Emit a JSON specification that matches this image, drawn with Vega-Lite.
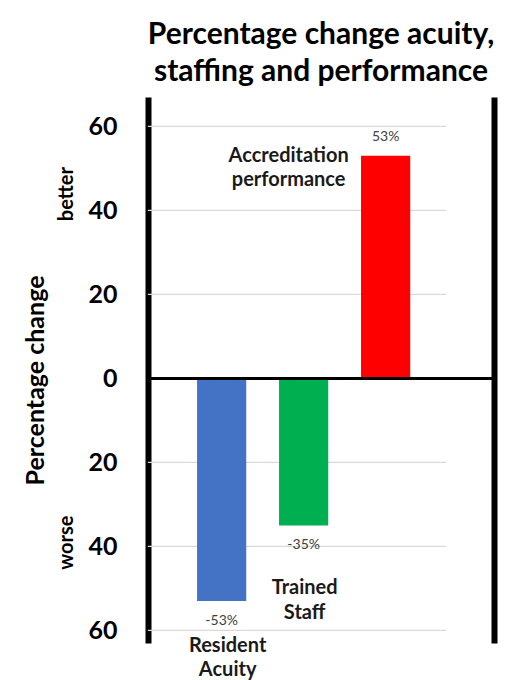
{
  "$schema": "https://vega.github.io/schema/vega-lite/v6.json",
  "autosize": "none",
  "padding": {"left": 148, "top": 97, "right": 17, "bottom": 37},
  "width": 346,
  "height": 546,
  "background": "white",
  "config": {"view": {"stroke": null}, "font": "Lato"},
  "title": {
    "text": ["Percentage change acuity,", "staffing and performance"],
    "fontSize": 30,
    "fontWeight": "bold",
    "font": "Lato",
    "color": "#000000",
    "lineHeight": 37,
    "anchor": "middle",
    "offset": 10
  },
  "datasets": {
    "bars": [
      {"category": "Resident Acuity", "value": -53},
      {"category": "Trained Staff", "value": -35},
      {"category": "Accreditation performance", "value": 53}
    ],
    "grid": [
      {"g": -60}, {"g": -40}, {"g": -20}, {"g": 20}, {"g": 40}, {"g": 60}
    ]
  },
  "data": {"name": "bars"},
  "resolve": {"axis": {"y": "independent"}},
  "layer": [
    {
      "data": {"name": "grid"},
      "mark": {"type": "rule", "color": "#d9d9d9", "strokeWidth": 1.2},
      "encoding": {
        "x": {"datum": "Resident Acuity", "type": "nominal", "bandPosition": -1,
          "scale": {"domain": ["Resident Acuity", "Trained Staff", "Accreditation performance", "_"], "paddingInner": 0.4, "paddingOuter": 0.31, "align": 0.965},
          "axis": null},
        "x2": {"datum": "_", "bandPosition": 0.07},
        "y": {"field": "g", "type": "quantitative", "scale": {"domain": [-63, 67], "nice": false, "zero": false}, "axis": null}
      }
    },
    {
      "mark": {"type": "bar"},
      "encoding": {
        "x": {
          "field": "category", "type": "nominal", "axis": null,
          "scale": {"domain": ["Resident Acuity", "Trained Staff", "Accreditation performance", "_"], "paddingInner": 0.4, "paddingOuter": 0.31, "align": 0.965}
        },
        "y": {
          "field": "value", "type": "quantitative",
          "scale": {"domain": [-63, 67], "nice": false, "zero": false},
          "axis": {
            "orient": "left", "offset": 0,
            "values": [-60, -40, -20, 0, 20, 40, 60],
            "labelExpr": "format(abs(datum.value), 'd')",
            "labelFontSize": 25, "labelFontWeight": "bold", "labelColor": "#000000", "labelFont": "Lato",
            "labelPadding": 31, "ticks": false, "tickSize": 0,
            "domain": true, "domainColor": "#000000", "domainWidth": 6,
            "grid": false,
            "labelOverlap": false, "labelFlush": false, "labelBound": false,
            "title": "Percentage change", "titleFontSize": 25, "titleFontWeight": "bold", "titleColor": "#000000", "titleFont": "Lato",
            "titleAngle": 270, "titleX": -113, "titleY": 283, "titleBaseline": "middle", "titleAlign": "center"
          }
        },
        "color": {
          "field": "category", "type": "nominal", "legend": null,
          "scale": {
            "domain": ["Resident Acuity", "Trained Staff", "Accreditation performance"],
            "range": ["#4472C4", "#00B050", "#FF0000"]
          }
        }
      }
    },
    {
      "mark": {"type": "rule", "color": "#000000", "strokeWidth": 3},
      "encoding": {
        "y": {
          "datum": 0, "type": "quantitative",
          "scale": {"domain": [-63, 67], "nice": false, "zero": false},
          "axis": {
            "orient": "right", "offset": 0, "labels": false, "ticks": false, "tickSize": 0, "grid": false,
            "domain": true, "domainColor": "#000000", "domainWidth": 6, "title": null
          }
        }
      }
    },
    {
      "transform": [{"filter": "datum.value < 0"}, {"calculate": "datum.value + '%'", "as": "lbl"}],
      "mark": {"type": "text", "fontSize": 14, "color": "#404040", "dy": 20, "baseline": "middle", "font": "Lato"},
      "encoding": {
        "x": {"field": "category", "type": "nominal"},
        "y": {
          "field": "value", "type": "quantitative",
          "scale": {"domain": [-63, 67], "nice": false, "zero": false},
          "axis": {
            "orient": "left", "offset": 0, "values": [44, -39],
            "labelExpr": "datum.value > 0 ? 'better' : 'worse'",
            "labelAngle": 270, "labelAlign": "center", "labelBaseline": "middle",
            "labelPadding": 82, "ticks": false, "tickSize": 0, "domain": false, "grid": false,
            "labelFontSize": 20, "labelFontWeight": "bold", "labelColor": "#000000", "labelFont": "Lato",
            "labelOverlap": false, "labelBound": false, "labelFlush": false, "title": null
          }
        },
        "text": {"field": "lbl"}
      }
    },
    {
      "transform": [{"filter": "datum.value > 0"}, {"calculate": "datum.value + '%'", "as": "lbl"}],
      "mark": {"type": "text", "fontSize": 14, "color": "#404040", "dy": -19, "baseline": "middle", "font": "Lato"},
      "encoding": {
        "x": {"field": "category", "type": "nominal"},
        "y": {"field": "value", "type": "quantitative", "scale": {"domain": [-63, 67], "nice": false, "zero": false}, "axis": null},
        "text": {"field": "lbl"}
      }
    },
    {
      "transform": [{"filter": "datum.category == 'Resident Acuity'"}],
      "mark": {"type": "text", "fontSize": 20, "fontWeight": "bold", "color": "#1a1a1a", "lineBreak": " ", "lineHeight": 24, "baseline": "middle", "dx": 6, "font": "Lato"},
      "encoding": {
        "x": {"field": "category", "type": "nominal"},
        "y": {"datum": -63.8, "type": "quantitative", "scale": {"domain": [-63, 67], "nice": false, "zero": false}, "axis": null},
        "text": {"field": "category"}
      }
    },
    {
      "transform": [{"filter": "datum.category == 'Trained Staff'"}],
      "mark": {"type": "text", "fontSize": 20, "fontWeight": "bold", "color": "#1a1a1a", "lineBreak": " ", "lineHeight": 25, "baseline": "middle", "dx": 1, "font": "Lato"},
      "encoding": {
        "x": {"field": "category", "type": "nominal"},
        "y": {"datum": -50, "type": "quantitative", "scale": {"domain": [-63, 67], "nice": false, "zero": false}, "axis": null},
        "text": {"field": "category"}
      }
    },
    {
      "transform": [{"filter": "datum.category == 'Accreditation performance'"}],
      "mark": {"type": "text", "fontSize": 20, "fontWeight": "bold", "color": "#1a1a1a", "lineBreak": " ", "lineHeight": 24, "baseline": "middle", "dx": -97, "font": "Lato"},
      "encoding": {
        "x": {"field": "category", "type": "nominal"},
        "y": {"datum": 52.9, "type": "quantitative", "scale": {"domain": [-63, 67], "nice": false, "zero": false}, "axis": null},
        "text": {"field": "category"}
      }
    }
  ]
}
